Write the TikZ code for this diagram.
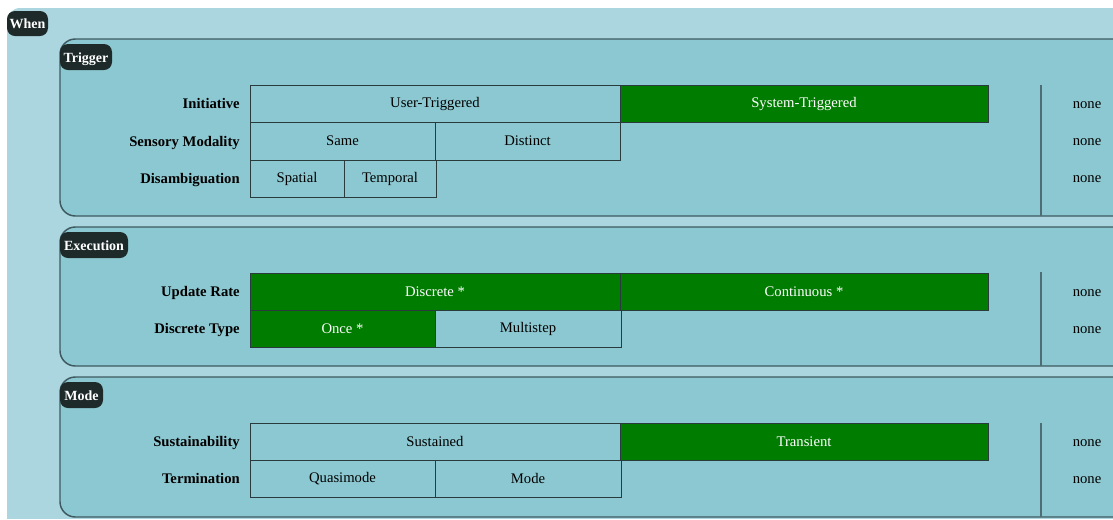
\documentclass[tikz,border=0pt]{standalone}
\usepackage{fontspec}
\setmainfont{Liberation Serif}
\definecolor{outerblue}{HTML}{ABD6DF}
\definecolor{panelblue}{HTML}{8CC8D1}
\definecolor{panelline}{HTML}{3E5A60}
\definecolor{sepline}{HTML}{4F6D72}
\definecolor{cellline}{HTML}{2A3B3E}
\definecolor{selgreen}{HTML}{007C00}
\definecolor{tagdark}{HTML}{1E2A2A}
\tikzset{
  tt/.style={text height=0.68em, text depth=0.22em},
  panel/.style={fill=panelblue, draw=panelline, line width=1.1pt, rounded corners=11.5pt},
  tag/.style={tt, fill=tagdark, rounded corners=6pt, text=white, font=\fontsize{10.5}{12}\selectfont\bfseries, inner sep=0pt, anchor=center},
  rowlabel/.style={tt, anchor=east, font=\fontsize{11}{13}\selectfont\bfseries, inner sep=0pt},
  cellbox/.style={draw=cellline, line width=0.75pt, font=\fontsize{11}{13}\selectfont, inner sep=0pt, anchor=center},
  sel/.style={cellbox, fill=selgreen, text=white},
  nonetext/.style={tt, font=\fontsize{11}{13}\selectfont, inner sep=0pt},
  sep/.style={draw=sepline, line width=1.3pt}
}
\newcommand{\mycell}[7]{% name, style, x1, y1, x2, y2, text
  \node[#2, minimum width={(#5-#3)*0.75pt}, minimum height={(#6-#4)*0.75pt}] (#1) at ({(#3+#5)/2},{(#4+#6)/2}) {\raisebox{-0.23em}{#7}};}
\newcommand{\mytag}[6]{% name, x1, y1, x2, y2, text
  \node[tag, minimum width={(#4-#2)*0.75pt}, minimum height={(#5-#3)*0.75pt}] (#1) at ({(#2+#4)/2},{(#3+#5)/2}) {\raisebox{-1.5pt}{#6}};}
\begin{document}
\begin{tikzpicture}[x=0.75pt,y=-0.75pt]
\useasboundingbox (0,0) rectangle (1113,519);
\fill[white] (0,0) rectangle (1113,519);
\begin{scope}
\clip (0,0) rectangle (1113,518);
% outer When box
\fill[outerblue, rounded corners=10pt] (7,540) -- (7,8) -- (1140,8) -- (1140,540) -- cycle;
% panels
\draw[panel] (60,39) rectangle (1140,216);
\draw[panel] (60,227) rectangle (1140,366);
\draw[panel] (60,377) rectangle (1140,517);
\end{scope}
% tags
\mytag{when}{7}{11}{48}{36}{When}
\mytag{trig}{60}{44}{112}{70}{Trigger}
\mytag{exec}{60}{232}{128}{258}{Execution}
\mytag{mode}{60}{382}{103}{408}{Mode}
% separators
\coordinate (s1a) at (1041,85); \coordinate (s1b) at (1041,216);
\coordinate (s2a) at (1041,272); \coordinate (s2b) at (1041,366);
\coordinate (s3a) at (1041,423); \coordinate (s3b) at (1041,517);
\draw[sep] (s1a) -- (s1b);
\draw[sep] (s2a) -- (s2b);
\draw[sep] (s3a) -- (s3b);
% Trigger rows
\node[rowlabel] (l1) at (240,105.5) {Initiative};
\node[rowlabel] (l2) at (240,143) {Sensory Modality};
\node[rowlabel] (l3) at (240,180.5) {Disambiguation};
\mycell{c11}{cellbox}{250}{85}{620}{122}{User-Triggered}
\mycell{c12}{sel}{620}{85}{988}{122}{System-Triggered}
\mycell{c21}{cellbox}{250}{122}{435}{160}{Same}
\mycell{c22}{cellbox}{435}{122}{620}{160}{Distinct}
\mycell{c31}{cellbox}{250}{160}{344}{197}{Spatial}
\mycell{c32}{cellbox}{344}{160}{436}{197}{Temporal}
\node[nonetext] (n1) at (1087,105) {none};
\node[nonetext] (n2) at (1087,142) {none};
\node[nonetext] (n3) at (1087,179) {none};
% Execution rows
\node[rowlabel] (l4) at (240,293.5) {Update Rate};
\node[rowlabel] (l5) at (240,330.5) {Discrete Type};
\mycell{c41}{sel}{250}{273}{620}{310}{Discrete *}
\mycell{c42}{sel}{620}{273}{988}{310}{Continuous *}
\mycell{c51}{sel}{250}{310}{435}{347}{Once *}
\mycell{c52}{cellbox}{435}{310}{621}{347}{Multistep}
\node[nonetext] (n4) at (1087,293) {none};
\node[nonetext] (n5) at (1087,330) {none};
% Mode rows
\node[rowlabel] (l6) at (240,443.5) {Sustainability};
\node[rowlabel] (l7) at (240,480.5) {Termination};
\mycell{c61}{cellbox}{250}{423}{620}{460}{Sustained}
\mycell{c62}{sel}{620}{423}{988}{460}{Transient}
\mycell{c71}{cellbox}{250}{460}{435}{497}{Quasimode}
\mycell{c72}{cellbox}{435}{460}{621}{497}{Mode}
\node[nonetext] (n6) at (1087,443) {none};
\node[nonetext] (n7) at (1087,480) {none};
\end{tikzpicture}
\end{document}
